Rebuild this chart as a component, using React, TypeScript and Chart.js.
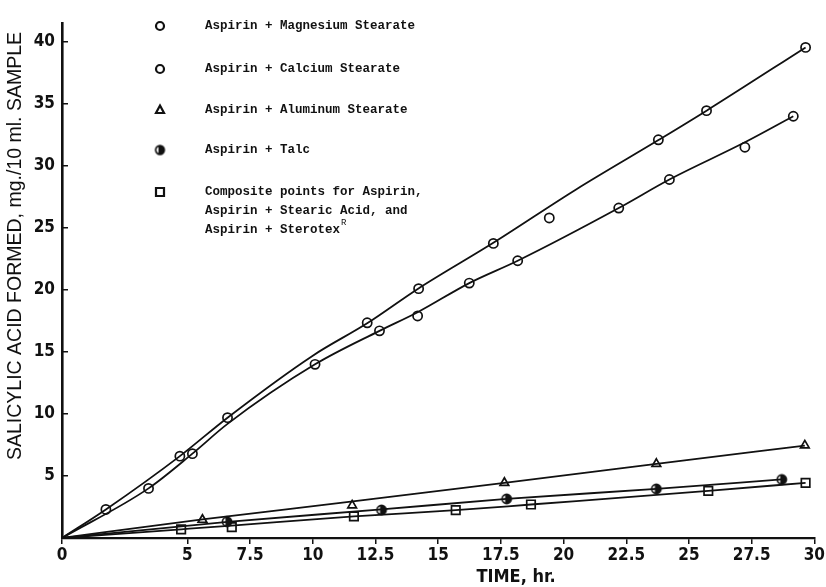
import React, { useEffect, useRef } from 'react';
import { Chart, registerables } from 'chart.js';

Chart.register(...registerables);

// ---- data (hours, mg./10 ml.) ----
const mgX = [1.75, 4.7, 6.6, 12.17, 14.22, 17.2, 23.78, 25.7, 29.65];
const mgY = [2.3, 6.6, 9.7, 17.35, 20.1, 23.75, 32.1, 34.45, 39.55];
const caX = [3.45, 5.2, 10.09, 12.66, 14.18, 16.24, 18.17, 19.43, 22.2, 24.22, 27.23, 29.16];
const caY = [4.0, 6.8, 14.0, 16.7, 17.9, 20.55, 22.35, 25.8, 26.6, 28.9, 31.5, 34.0];
const alX = [5.6, 11.57, 17.64, 23.7, 29.62];
const alY = [1.47, 2.63, 4.45, 5.98, 7.47];
const talcX = [6.58, 12.74, 17.73, 23.7, 28.7];
const talcY = [1.32, 2.26, 3.15, 3.96, 4.72];
const compX = [4.75, 6.77, 11.64, 15.7, 18.7, 25.77, 29.65];
const compY = [0.7, 0.88, 1.74, 2.24, 2.7, 3.8, 4.45];

// fitted curves
const mgCurveX = [0, 1.75, 4.7, 6.6, 10, 12.2, 14.2, 17.2, 20.5, 23.8, 25.7, 29.65];
const mgCurveY = [0, 2.3, 6.6, 9.7, 14.7, 17.35, 20.1, 23.8, 28.1, 32.1, 34.45, 39.55];
const caCurveX = [0, 3.45, 5.2, 6.6, 10.09, 12.66, 14.18, 16.24, 18.17, 22.2, 24.22, 27.23, 29.16];
const caCurveY = [0, 4.0, 6.8, 9.2, 14.0, 16.7, 18.2, 20.55, 22.35, 26.6, 28.9, 31.9, 34.0];
const alCurveX = [0, 5.6, 11.6, 17.64, 23.7, 29.62];
const alCurveY = [0, 1.5, 2.95, 4.45, 5.98, 7.45];
const talcCurveX = [0, 6.6, 12.74, 17.73, 23.7, 28.7];
const talcCurveY = [0, 1.3, 2.3, 3.15, 3.96, 4.72];
const compCurveX = [0, 4.75, 6.77, 11.64, 15.7, 18.7, 25.77, 29.65];
const compCurveY = [0, 0.7, 1.0, 1.74, 2.24, 2.7, 3.8, 4.45];

const xTickValues = [0, 5, 7.5, 10, 12.5, 15, 17.5, 20, 22.5, 25, 27.5, 30];
const yTickValues = [5, 10, 15, 20, 25, 30, 35, 40];

const legendLabels = [
  ['Aspirin + Magnesium Stearate'],
  ['Aspirin + Calcium Stearate'],
  ['Aspirin + Aluminum Stearate'],
  ['Aspirin + Talc'],
  ['Composite points for Aspirin,', 'Aspirin + Stearic Acid, and', 'Aspirin + Sterotex'],
];
const legendSuperscript = 'R';
const xTitle = 'TIME, hr.';
const yTitle = 'SALICYLIC ACID FORMED, mg./10 ml. SAMPLE';

const INK = '#111';
const MONO = '"Liberation Mono", "DejaVu Sans Mono", monospace';
const NARROW = '"Liberation Sans Narrow", "DejaVu Sans Condensed", "Liberation Sans", sans-serif';
const SANS = '"Liberation Sans", "DejaVu Sans", Arial, sans-serif';

const pts = (xs: number[], ys: number[]) => xs.map((x, i) => ({ x, y: ys[i] }));

function makeTalcMarker(r: number) {
  const c = document.createElement('canvas');
  const s = Math.ceil(r * 2 + 4);
  c.width = s;
  c.height = s;
  const g = c.getContext('2d')!;
  const cx = s / 2, cy = s / 2;
  g.fillStyle = '#fff';
  g.beginPath(); g.arc(cx, cy, r, 0, Math.PI * 2); g.fill();
  g.fillStyle = INK;
  g.beginPath(); g.arc(cx, cy, r, -Math.PI / 2 - 0.35, Math.PI / 2 + 0.35); g.closePath(); g.fill();
  g.lineWidth = 1.7; g.strokeStyle = INK;
  g.beginPath(); g.arc(cx, cy, r, 0, Math.PI * 2); g.stroke();
  return c;
}

function drawMarker(ctx: CanvasRenderingContext2D, kind: string, x: number, y: number, talc: HTMLCanvasElement) {
  ctx.save();
  ctx.strokeStyle = INK;
  ctx.fillStyle = '#fff';
  ctx.lineWidth = 2.2;
  ctx.beginPath();
  if (kind === 'circle') {
    ctx.arc(x, y, 4, 0, Math.PI * 2);
    ctx.fill(); ctx.stroke();
  } else if (kind === 'triangle') {
    ctx.moveTo(x, y - 4.5); ctx.lineTo(x + 4, y + 3); ctx.lineTo(x - 4, y + 3); ctx.closePath();
    ctx.fill(); ctx.stroke();
  } else if (kind === 'rect') {
    ctx.rect(x - 4, y - 4, 8, 8);
    ctx.fill(); ctx.stroke();
  } else {
    ctx.drawImage(talc, x - talc.width / 2, y - talc.height / 2);
  }
  ctx.restore();
}

export default function App() {
  const ref = useRef<HTMLCanvasElement | null>(null);

  useEffect(() => {
    if (!ref.current) return;
    const talc = makeTalcMarker(4.6);
    const legendTalc = makeTalcMarker(4.3);

    const curve = (xs: number[], ys: number[]) => ({
      data: pts(xs, ys),
      showLine: true,
      borderColor: INK,
      borderWidth: 1.8,
      pointRadius: 0,
      cubicInterpolationMode: 'monotone' as const,
      fill: false,
    });
    const marks = (xs: number[], ys: number[], style: any, radius: number) => ({
      data: pts(xs, ys),
      showLine: false,
      pointStyle: style,
      pointRadius: radius,
      pointBorderWidth: 1.7,
      pointBorderColor: INK,
      pointBackgroundColor: '#fff',
    });

    const overlay = {
      id: 'overlay',
      afterDraw(chart: any) {
        const ctx: CanvasRenderingContext2D = chart.ctx;
        ctx.save();
        ctx.fillStyle = INK;
        // y title
        ctx.save();
        ctx.translate(16, 246);
        ctx.rotate(-Math.PI / 2);
        ctx.font = `19.5px ${SANS}`;
        ctx.textAlign = 'center';
        ctx.textBaseline = 'middle';
        ctx.fillText(yTitle, 0, 0);
        ctx.restore();
        // x title
        ctx.font = `bold 18px ${NARROW}`;
        ctx.textAlign = 'center';
        ctx.textBaseline = 'middle';
        ctx.fillText(xTitle, 516, 577);
        // legend
        const kinds = ['circle', 'circle', 'triangle', 'talc', 'rect'];
        const rows = [26, 69, 110, 150, 192];
        ctx.font = `bold 12.5px ${MONO}`;
        ctx.textAlign = 'left';
        legendLabels.forEach((lines, i) => {
          drawMarker(ctx, kinds[i], 160, rows[i], legendTalc);
          lines.forEach((ln, j) => {
            ctx.fillStyle = INK;
            ctx.fillText(ln, 205, rows[i] + j * 19);
            if (i === 4 && j === lines.length - 1) {
              const w = ctx.measureText(ln).width;
              ctx.save();
              ctx.font = `9px ${MONO}`;
              ctx.fillText(legendSuperscript, 205 + w + 1, rows[i] + j * 19 - 7);
              ctx.restore();
            }
          });
        });
        ctx.restore();
      },
    };

    const chart = new Chart(ref.current, {
      type: 'scatter',
      data: {
        datasets: [
          curve(mgCurveX, mgCurveY),
          curve(caCurveX, caCurveY),
          curve(alCurveX, alCurveY),
          curve(talcCurveX, talcCurveY),
          curve(compCurveX, compCurveY),
          marks(mgX, mgY, 'circle', 4.6),
          marks(caX, caY, 'circle', 4.6),
          marks(alX, alY, 'triangle', 5),
          marks(talcX, talcY, talc, 4.6),
          marks(compX, compY, 'rect', 6),
        ] as any,
      },
      options: {
        animation: false,
        responsive: false,
        layout: { padding: { top: 11, right: 9, left: 0, bottom: 0 } },
        plugins: { legend: { display: false }, tooltip: { enabled: false } },
        scales: {
          x: {
            type: 'linear',
            min: 0,
            max: 30,
            afterBuildTicks: (s: any) => { s.ticks = xTickValues.map((v) => ({ value: v })); },
            afterFit: (s: any) => { s.height = 49; },
            border: { display: true, color: INK, width: 2.2 },
            grid: { drawOnChartArea: false, drawTicks: true, tickLength: 6, color: INK, lineWidth: 1.5 },
            ticks: {
              color: INK,
              padding: 1,
              autoSkip: false,
              maxRotation: 0,
              font: { family: NARROW, size: 17, weight: 'bold' },
              callback: (v: any) => String(v),
            },
          },
          y: {
            type: 'linear',
            min: 0,
            max: 41.5,
            afterBuildTicks: (s: any) => { s.ticks = yTickValues.map((v) => ({ value: v })); },
            afterFit: (s: any) => { s.width = 62; },
            border: { display: true, color: INK, width: 2.6 },
            grid: { drawOnChartArea: false, drawTicks: true, tickLength: -6, color: INK, lineWidth: 1.5 },
            ticks: {
              color: INK,
              padding: 13,
              font: { family: NARROW, size: 17, weight: 'bold' },
              callback: (v: any) => String(v),
            },
          },
        },
      },
      plugins: [overlay],
    } as any);
    return () => chart.destroy();
  }, []);

  return (
    <canvas
      ref={ref}
      width={826}
      height={587}
      style={{ position: 'fixed', left: 0, top: 0, width: 826, height: 587, display: 'block', background: '#fff' }}
    />
  );
}
